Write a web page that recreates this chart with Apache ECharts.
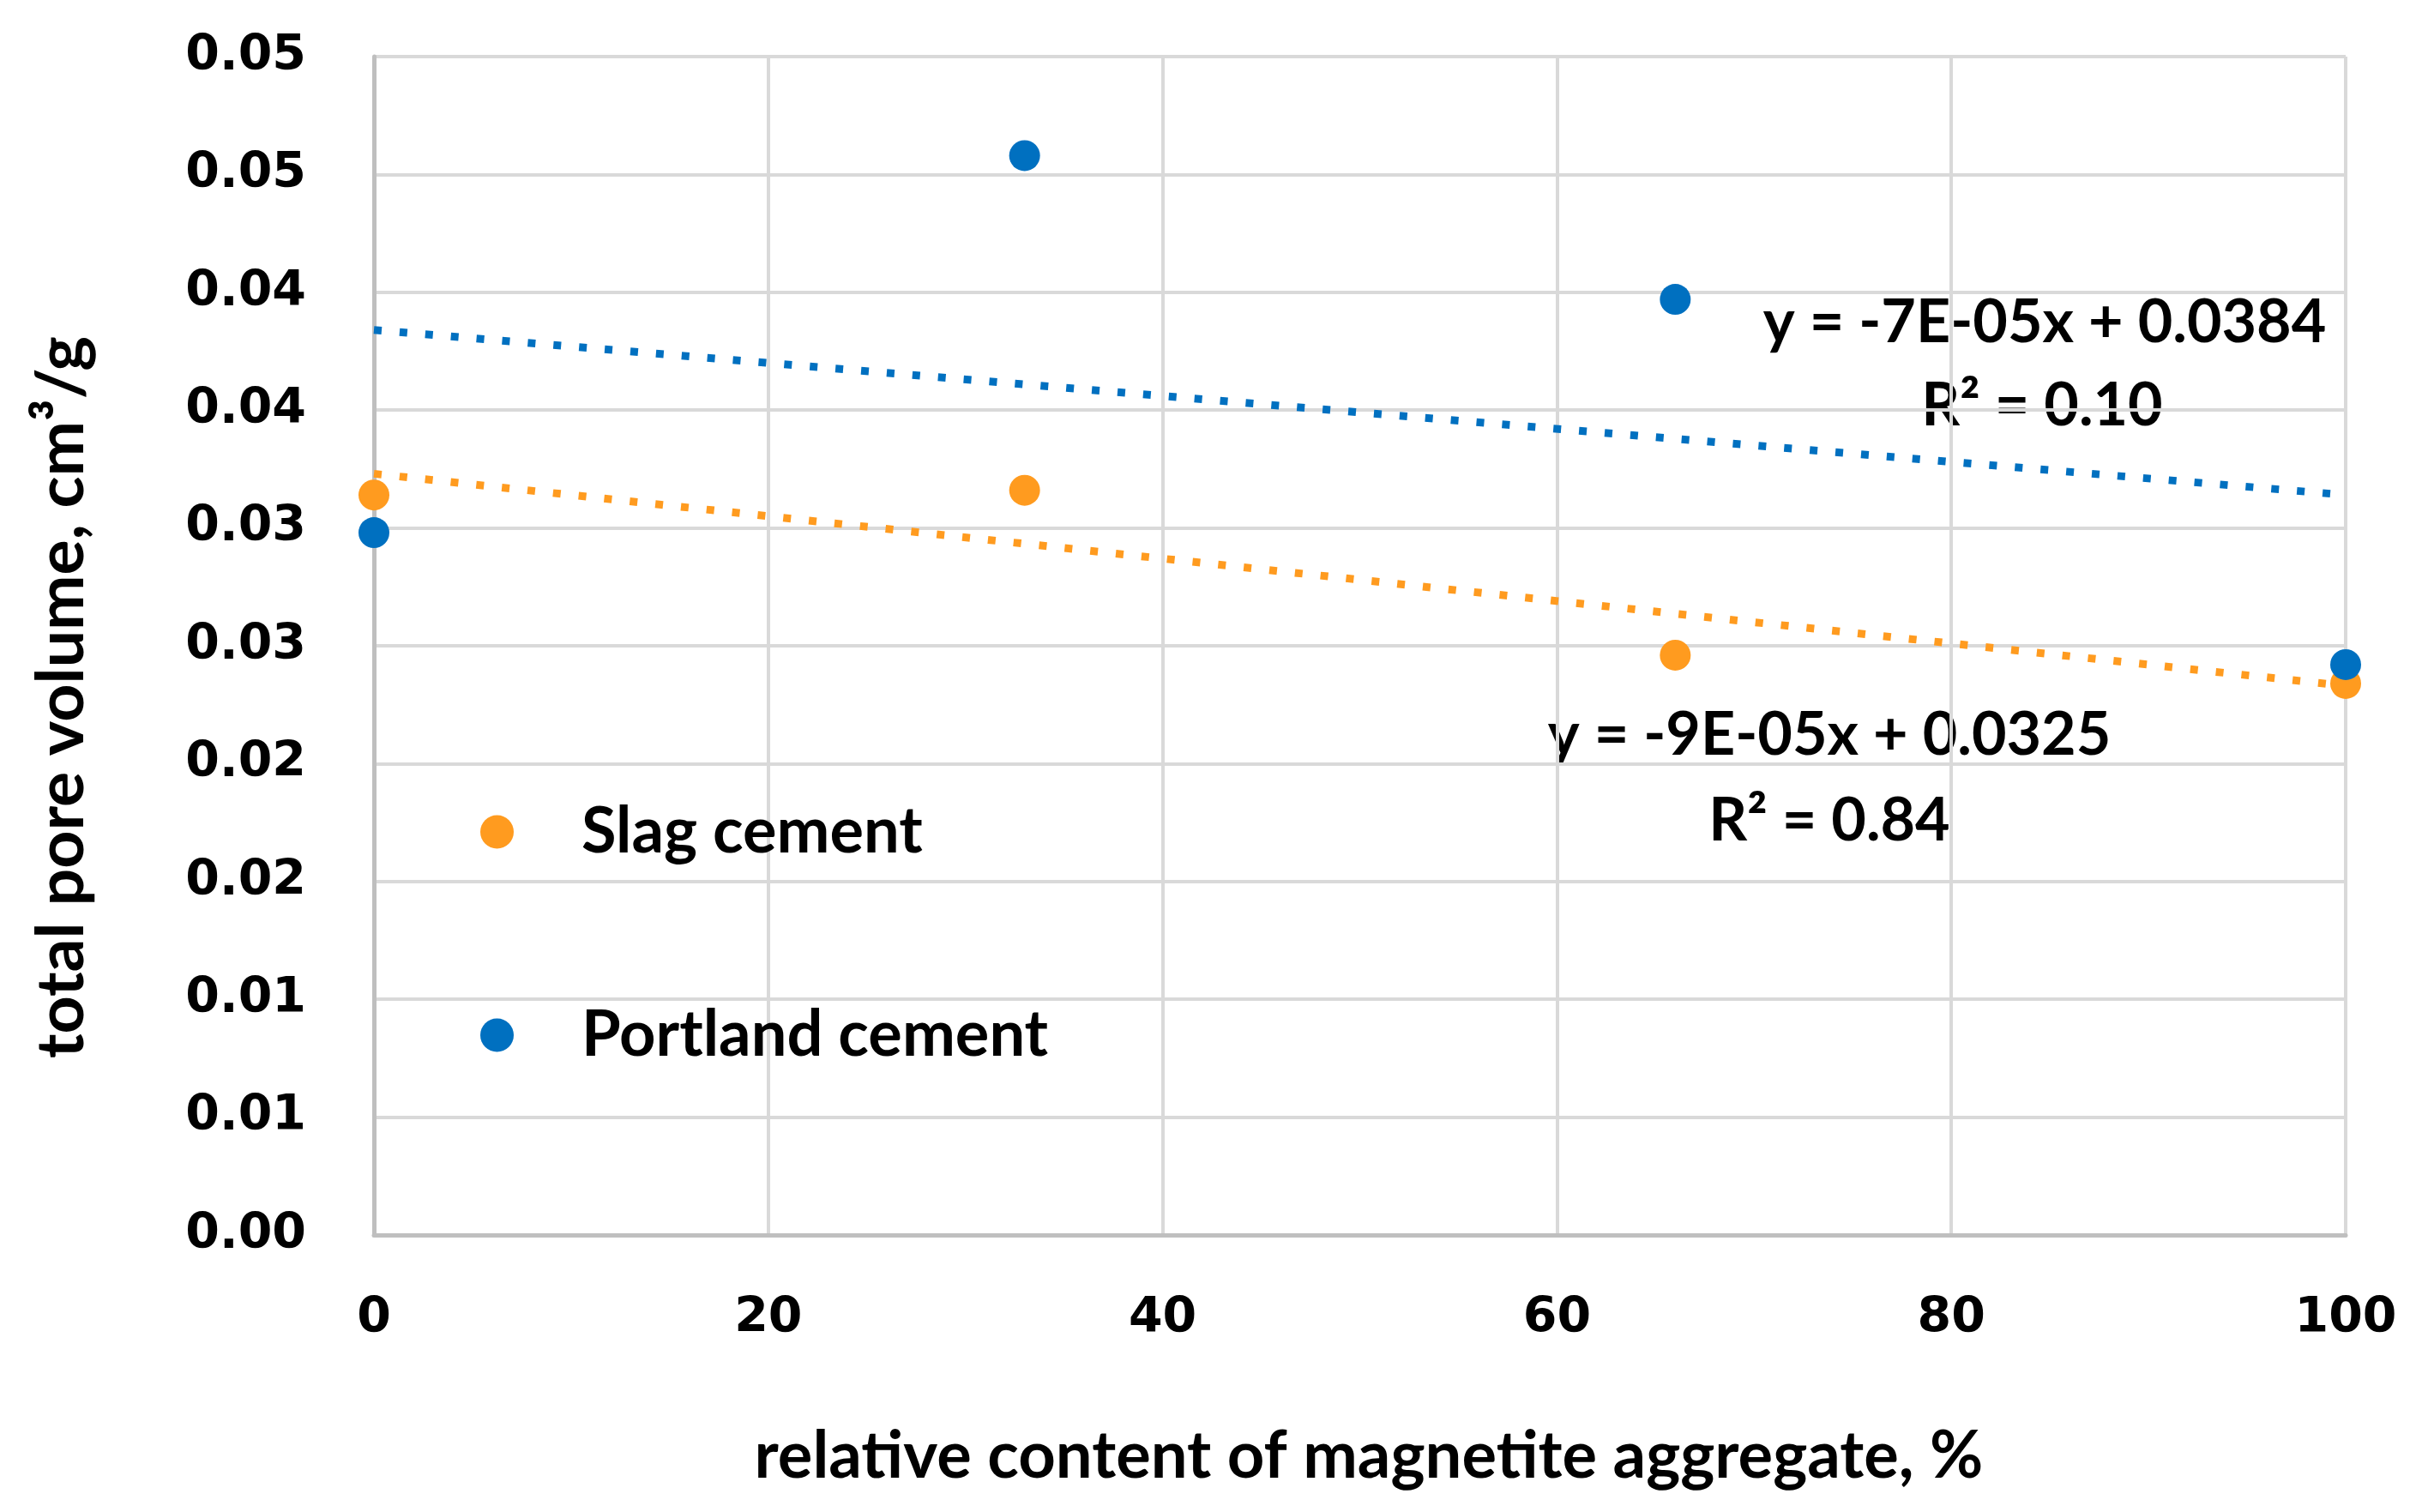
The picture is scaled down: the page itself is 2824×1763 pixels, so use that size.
<!DOCTYPE html>
<html><head><meta charset="utf-8">
<script src="https://cdn.jsdelivr.net/npm/echarts@6/dist/echarts.min.js"></script>
<style>html,body{margin:0;padding:0;background:#fff}#c{width:2824px;height:1763px}</style>
</head><body><div id="c"></div>
<script>
// ---- data ----
const xValues = [0, 33, 66, 100];
const slagValues = [0.0314, 0.0316, 0.0246, 0.0234];
const portlandValues = [0.0298, 0.0458, 0.0397, 0.0242];
const trendX = [0, 100];
const slagTrend = [0.0323, 0.0233];
const portlandTrend = [0.0384, 0.0314];
const yTickLabels = ['0.00','0.01','0.01','0.02','0.02','0.03','0.03','0.04','0.04','0.05','0.05'];
const xTickLabels = ['0','20','40','60','80','100'];
const seriesNames = ['Slag cement', 'Portland cement'];
const slagEqText = ['y = -9E-05x + 0.0325', 'R² = 0.84'];
const portlandEqText = ['y = -7E-05x + 0.0384', 'R² = 0.10'];
const xTitle = 'relative content of magnetite aggregate, %';
const yTitle = 'total pore volume, cm³/g';

const ORANGE = '#FF9B1F', BLUE = '#0070C0';
const tickFont = 'DejaVu Sans', textFont = 'Lato';

const zip = (xs, ys) => xs.map((x, i) => [x, ys[i]]);

const legendBase = {
  orient: 'vertical', left: 555, itemWidth: 39, itemHeight: 39, icon: 'circle',
  textStyle: {color: '#000', fontFamily: textFont, fontWeight: 'bold', fontSize: 74,
    padding: [0, 0, 0, 74]}
};

const chart = echarts.init(document.getElementById('c'), null, {renderer: 'canvas'});
const option = {
  backgroundColor: '#fff',
  animation: false,
  grid: {left: 436, right: 89, top: 66, bottom: 323, containLabel: false},
  xAxis: {
    type: 'value', min: 0, max: 100, interval: 20,
    axisLine: {show: true, lineStyle: {color: '#BFBFBF', width: 5}},
    axisTick: {show: false},
    splitLine: {show: true, lineStyle: {color: '#D9D9D9', width: 4}},
    axisLabel: {
      color: '#000', fontFamily: tickFont, fontWeight: 'bold', fontSize: 57, margin: 70,
      formatter: (v) => xTickLabels[Math.round(v / 20)]
    }
  },
  yAxis: {
    type: 'value', min: 0, max: 0.05, interval: 0.005,
    axisLine: {show: true, lineStyle: {color: '#BFBFBF', width: 5}},
    axisTick: {show: false},
    splitLine: {show: true, lineStyle: {color: '#D9D9D9', width: 4}},
    axisLabel: {
      color: '#000', fontFamily: tickFont, fontWeight: 'bold', fontSize: 57, margin: 79,
      formatter: (v) => yTickLabels[Math.round(v / 0.005)]
    }
  },
  legend: [
    Object.assign({}, legendBase, {top: 928, data: [seriesNames[0]]}),
    Object.assign({}, legendBase, {top: 1165, data: [seriesNames[1]]})
  ],
  series: [
    {type: 'line', data: zip(trendX, slagTrend), symbol: 'none', silent: true, z: 1,
     lineStyle: {color: ORANGE, width: 9, type: [9, 21], cap: 'butt'}},
    {type: 'line', data: zip(trendX, portlandTrend), symbol: 'none', silent: true, z: 1,
     lineStyle: {color: BLUE, width: 9, type: [9, 21], cap: 'butt'}},
    {name: seriesNames[0], type: 'scatter', data: zip(xValues, slagValues), symbol: 'circle',
     symbolSize: 36, itemStyle: {color: ORANGE, opacity: 1}, z: 3},
    {name: seriesNames[1], type: 'scatter', data: zip(xValues, portlandValues), symbol: 'circle',
     symbolSize: 36, itemStyle: {color: BLUE, opacity: 1}, z: 3}
  ],
  graphic: [
    {type: 'text', x: 1596, y: 1698, style: {text: xTitle, fill: '#000',
      font: 'bold 76px Lato', align: 'center', verticalAlign: 'middle'}},
    {type: 'text', x: 72, y: 813, rotation: Math.PI / 2, style: {text: yTitle, fill: '#000',
      font: 'bold 77px Lato', align: 'center', verticalAlign: 'middle'}},
    {type: 'text', x: 2384, y: 376, style: {text: portlandEqText[0], fill: '#000',
      font: 'bold 70px Lato', align: 'center', verticalAlign: 'middle'}},
    {type: 'text', x: 2381, y: 473, style: {text: portlandEqText[1], fill: '#000',
      font: 'bold 70px Lato', align: 'center', verticalAlign: 'middle'}},
    {type: 'text', x: 2133, y: 857, style: {text: slagEqText[0], fill: '#000',
      font: 'bold 70px Lato', align: 'center', verticalAlign: 'middle'}},
    {type: 'text', x: 2133, y: 957, style: {text: slagEqText[1], fill: '#000',
      font: 'bold 70px Lato', align: 'center', verticalAlign: 'middle'}}
  ]
};
chart.setOption(option);
</script></body></html>
